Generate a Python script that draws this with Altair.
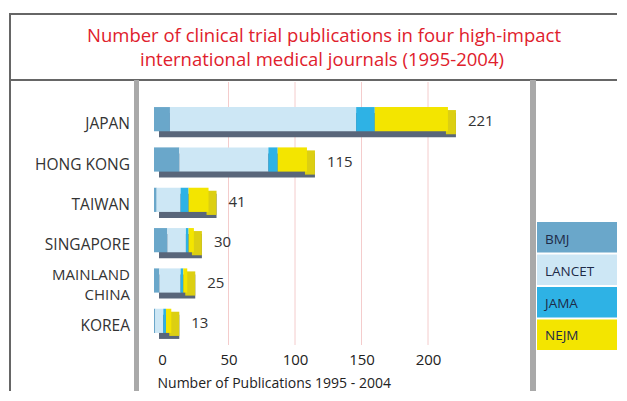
import altair as alt
import pandas as pd

# ---------------- data ----------------
countries = ["JAPAN", "HONG KONG", "TAIWAN", "SINGAPORE", "MAINLAND CHINA", "KOREA"]
country_labels = ["JAPAN", "HONG KONG", "TAIWAN", "SINGAPORE", "MAINLAND\nCHINA", "KOREA"]
journals = ["BMJ", "LANCET", "JAMA", "NEJM"]
bmj = [12, 19, 2, 10, 4, 1]
lancet = [140, 67, 18, 14, 16, 6]
jama = [14, 7, 6, 2, 2, 2]
nejm = [55, 22, 15, 4, 3, 4]
totals = [221, 115, 41, 30, 25, 13]
journal_colors = ["#6aa7ca", "#cde7f5", "#2eb2e5", "#f3e500"]
x_ticks = [0, 50, 100, 150, 200]
grid_values = [50, 100, 150, 200]
title_lines = ["Number of clinical trial publications in four high-impact",
               "international medical journals (1995-2004)"]
x_title = "Number of Publications 1995 - 2004"

FONT = "Open Sans"

# ---------------- tables ----------------
rows = []
for i, c in enumerate(countries):
    for j, (jn, vals) in enumerate(zip(journals, [bmj, lancet, jama, nejm])):
        rows.append({"country": c, "journal": jn, "value": vals[i], "jorder": j})
seg_df = pd.DataFrame(rows)
tot_df = pd.DataFrame({"country": countries, "label": country_labels, "total": totals})
tot_df["multi"] = tot_df["label"].str.contains("\n")
grid_df = pd.DataFrame({"g": grid_values})
leg_df = pd.DataFrame({"journal": journals})
one = pd.DataFrame({"a": [0]})

# ---------------- scales ----------------
xscale = alt.Scale(domain=[0, 200], range=[154, 420], nice=False, zero=False)
xaxis = alt.Axis(values=x_ticks, grid=False, domain=False, ticks=False,
                 labelFont=FONT, labelFontSize=15, labelColor="#222222",
                 labelPadding=7, labelFlush=False,
                 title=x_title, titleFont=FONT, titleFontSize=14,
                 titleFontWeight="normal", titleColor="#222222",
                 titleX=149, titleY=38, titleAlign="left", titleBaseline="middle")
yscale = alt.Scale(domain=countries, range=[19, 261], paddingInner=0.4, paddingOuter=0.2)
ycountry = alt.Y("country:N", sort=countries, scale=yscale, axis=None)
cscale = alt.Scale(domain=journals, range=journal_colors)

base_seg = alt.Chart(seg_df)
base_tot = alt.Chart(tot_df)

grid = alt.Chart(grid_df).mark_rule(color="#f4cccc", strokeWidth=1).encode(
    x=alt.X("g:Q", scale=xscale, axis=xaxis),
    y=alt.value(2), y2=alt.value(265))

shadow = base_tot.mark_bar(color="#59667a", yOffset=6, y2Offset=6, xOffset=0, x2Offset=-3).encode(
    x=alt.X("total:Q", scale=xscale, axis=xaxis),
    x2=alt.datum(0),
    y=ycountry)

side = base_tot.mark_bar(color="#dccf12", xOffset=-10, x2Offset=0, yOffset=3, y2Offset=3).encode(
    x=alt.X("total:Q", scale=xscale, axis=xaxis),
    x2=alt.X2("total:Q"),
    y=ycountry)

front = base_seg.mark_bar(xOffset=-8, x2Offset=-8).encode(
    x=alt.X("value:Q", stack="zero", scale=xscale, axis=xaxis),
    y=ycountry,
    color=alt.Color("journal:N", scale=cscale, legend=None),
    order=alt.Order("jorder:Q", sort="ascending"))

vlabels = base_tot.mark_text(align="left", baseline="middle", dx=12, yOffset=2,
                             font=FONT, fontSize=15, color="#333333").encode(
    x=alt.X("total:Q", scale=xscale, axis=xaxis),
    y=ycountry,
    text=alt.Text("total:Q"))

clabels1 = base_tot.transform_filter("!datum.multi").mark_text(
    align="right", baseline="middle", yOffset=5,
    font=FONT, fontSize=15.5, color="#333333").encode(
    x=alt.value(122), y=ycountry, text="label:N")

clabels2 = base_tot.transform_filter("datum.multi").mark_text(
    align="right", baseline="middle", yOffset=-6, lineBreak="\n", lineHeight=20,
    font=FONT, fontSize=15, color="#333333").encode(
    x=alt.value(122), y=ycountry, text="label:N")

yleg = alt.Y("journal:N", sort=journals,
             scale=alt.Scale(domain=journals, range=[142, 270], paddingInner=0.06, paddingOuter=0),
             axis=None)
leg_rect = alt.Chart(leg_df).mark_bar().encode(
    x=alt.value(529), x2=alt.value(609), y=yleg,
    color=alt.Color("journal:N", scale=cscale, legend=None))
leg_text = alt.Chart(leg_df).mark_text(align="left", baseline="middle", yOffset=2,
                                       font=FONT, fontSize=13.5, color="#1d2b48").encode(
    x=alt.value(537), y=yleg, text="journal:N")

# frame & panels
def hline(y, x1, x2, color, w):
    return alt.Chart(one).mark_rule(color=color, strokeWidth=w).encode(
        x=alt.value(x1), x2=alt.value(x2), y=alt.value(y))

def vline(x, y1, y2, color, w):
    return alt.Chart(one).mark_rule(color=color, strokeWidth=w).encode(
        x=alt.value(x), y=alt.value(y1), y2=alt.value(y2))

def vbar(x1, x2, y1, y2, color):
    return alt.Chart(one).mark_rect(color=color).encode(
        x=alt.value(x1), x2=alt.value(x2), y=alt.value(y1), y2=alt.value(y2))

top_line = hline(-66, 1, 609, "#666666", 2)
sep_line = hline(0, 1, 609, "#666666", 2)
left_line = vline(2, -67, 311, "#666666", 2)
left_bar = vbar(126, 131, 0, 311, "#a9a9a9")
right_bar = vbar(522, 528, 0, 311, "#a9a9a9")

t1 = alt.Chart(one).mark_text(text=title_lines[0], font=FONT, fontSize=18.5, color="#e0202c",
                              align="center", baseline="middle").encode(
    x=alt.value(316), y=alt.value(-44))
t2 = alt.Chart(one).mark_text(text=title_lines[1], font=FONT, fontSize=18.5, color="#e0202c",
                              align="center", baseline="middle").encode(
    x=alt.value(314), y=alt.value(-20))

chart = alt.layer(
    grid, shadow, side, front, vlabels, clabels1, clabels2, leg_rect, leg_text,
    top_line, sep_line, left_line, left_bar, right_bar, t1, t2
).resolve_scale(y="independent").properties(
    width=609, height=265,
    autosize=alt.AutoSizeParams(type="none"),
    padding={"left": 0, "top": 72, "right": 0, "bottom": 46},
    background="white"
).configure_view(stroke=None)

chart.save("out.html", embed_options={"renderer": "svg", "actions": False})
